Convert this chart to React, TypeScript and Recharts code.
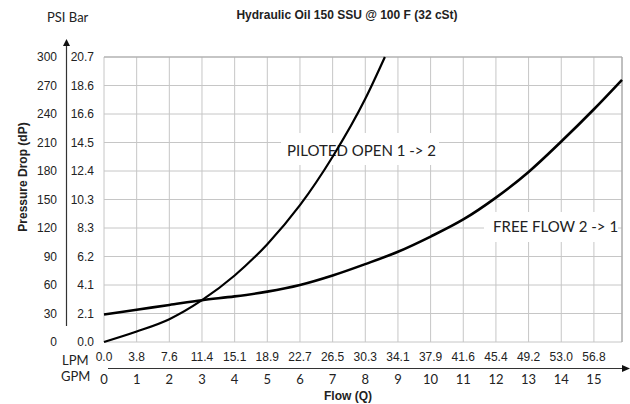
import { LineChart, Line, XAxis, YAxis, CartesianGrid, ReferenceLine, Customized } from 'recharts';

// flow in GPM, pressure drop in PSI
const pilotedGpm = [0, 1, 2, 3, 4, 5, 6, 7, 8, 8.6];
const pilotedPsi = [0, 11, 24, 44, 70, 103, 144, 195, 256, 300];

const freeGpm = [0, 1, 2, 3, 4, 5, 6, 7, 8, 9, 10, 11, 12, 13, 14, 15, 15.86];
const freePsi = [29, 34, 39, 44, 48, 53, 60, 70, 82, 95, 111, 129, 152, 179, 211, 245, 276];

const gpmTicks = [0, 1, 2, 3, 4, 5, 6, 7, 8, 9, 10, 11, 12, 13, 14, 15];
const lpmLabels = ['0.0', '3.8', '7.6', '11.4', '15.1', '18.9', '22.7', '26.5', '30.3', '34.1', '37.9', '41.6', '45.4', '49.2', '53.0', '56.8'];
const psiTicks = [0, 30, 60, 90, 120, 150, 180, 210, 240, 270, 300];
const barLabels = ['0.0', '2.1', '4.1', '6.2', '8.3', '10.3', '12.4', '14.5', '16.6', '18.6', '20.7'];

const X_MAX = 15.86;

const piloted = pilotedGpm.map((gpm, i) => ({ gpm, psi: pilotedPsi[i] }));
const free = freeGpm.map((gpm, i) => ({ gpm, psi: freePsi[i] }));

const numFont = '"Liberation Sans", Arial, sans-serif';
const softFont = 'Lato, "Open Sans", sans-serif';
const ink = '#222';

function YTick(props: any) {
  const { x, y, payload } = props;
  const i = psiTicks.indexOf(payload.value);
  return (
    <g fontFamily={numFont} fontSize={12} fill={ink}>
      <text x={x - 47} y={y + 4} textAnchor="end">{psiTicks[i]}</text>
      <text x={x - 10} y={y + 4} textAnchor="end">{barLabels[i]}</text>
    </g>
  );
}

function XTick(props: any) {
  const { x, y, payload } = props;
  const i = gpmTicks.indexOf(payload.value);
  return (
    <g fill={ink}>
      <text x={x} y={y + 19} textAnchor="middle" fontFamily={numFont} fontSize={12}>{lpmLabels[i]}</text>
      <text x={x} y={y + 42} textAnchor="middle" fontFamily={softFont} fontSize={13}>{gpmTicks[i]}</text>
    </g>
  );
}

function Overlay() {
  return (
    <g>
      {/* curve labels */}
      <rect x={281} y={133} width={158} height={32} fill="#fff" />
      <text x={287} y={156} fontFamily={softFont} fontSize={15} fill={ink}>PILOTED OPEN 1 -&gt; 2</text>
      <rect x={484} y={212} width={134} height={30} fill="#fff" />
      <text x={493} y={232} fontFamily={softFont} fontSize={15} fill={ink}>FREE FLOW 2 -&gt; 1</text>

      {/* axis arrows */}
      <line x1={66.5} y1={44} x2={66.5} y2={326} stroke="#333" strokeWidth={1.2} />
      <path d="M 66.5 39 L 63 46 L 70 46 Z" fill="#111" />
      <line x1={108} y1={368.5} x2={623} y2={368.5} stroke="#333" strokeWidth={1.2} />
      <path d="M 630 368.5 L 622 365 L 622 372 Z" fill="#111" />

      {/* titles */}
      <text x={347} y={19} textAnchor="middle" fontFamily={numFont} fontSize={12} fontWeight="bold" fill={ink}>
        Hydraulic Oil 150 SSU @ 100 F (32 cSt)
      </text>
      <text x={47} y={22} fontFamily={softFont} fontSize={13} fill={ink}>PSI Bar</text>
      <text x={62} y={365} fontFamily={softFont} fontSize={13} fill={ink}>LPM</text>
      <text x={61} y={381} fontFamily={softFont} fontSize={13} fill={ink}>GPM</text>
      <text x={348} y={400} textAnchor="middle" fontFamily={numFont} fontSize={12} fontWeight="bold" fill={ink}>Flow (Q)</text>
      <text
        x={23}
        y={177}
        transform="rotate(-90, 23, 177)"
        textAnchor="middle"
        dominantBaseline="central"
        fontFamily={numFont}
        fontSize={12}
        fontWeight="bold"
        fill={ink}
      >
        Pressure Drop (dP)
      </text>
    </g>
  );
}

export default function App() {
  return (
    <div style={{ position: 'absolute', left: 0, top: 0, width: 630, height: 404, background: '#fff' }}>
      <LineChart width={630} height={404} margin={{ top: 57, right: 8, bottom: 0, left: 0 }}>
        <CartesianGrid stroke="#c6c6c6" strokeWidth={1} />
        <XAxis
          type="number"
          dataKey="gpm"
          domain={[0, X_MAX]}
          ticks={gpmTicks}
          height={62}
          axisLine={false}
          tickLine={false}
          tickSize={0}
          tickMargin={0}
          interval={0}
          tick={(p: any) => <XTick {...p} />}
        />
        <YAxis
          type="number"
          domain={[0, 300]}
          ticks={psiTicks}
          width={104}
          axisLine={false}
          tickLine={false}
          tickSize={0}
          tickMargin={0}
          interval={0}
          tick={(p: any) => <YTick {...p} />}
        />
        <ReferenceLine x={X_MAX} stroke="#a8a8a8" strokeWidth={1.2} />
        <ReferenceLine y={300} stroke="#a8a8a8" strokeWidth={1.2} />
        <Line
          data={piloted}
          dataKey="psi"
          type="monotone"
          stroke="#000"
          strokeWidth={2.2}
          dot={false}
          activeDot={false}
          isAnimationActive={false}
        />
        <Line
          data={free}
          dataKey="psi"
          type="monotone"
          stroke="#000"
          strokeWidth={2.6}
          dot={false}
          activeDot={false}
          isAnimationActive={false}
        />
        <Customized component={Overlay} />
      </LineChart>
    </div>
  );
}
